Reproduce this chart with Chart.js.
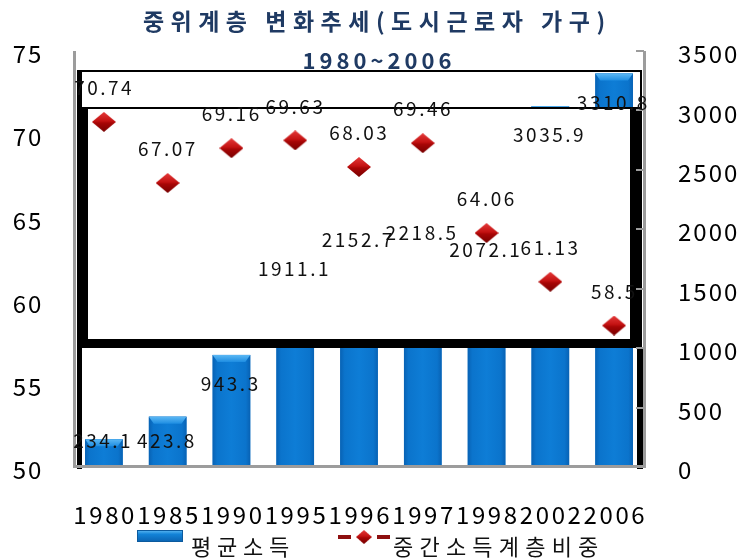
<!DOCTYPE html>
<html>
<head>
<meta charset="utf-8">
<script src="https://cdn.jsdelivr.net/npm/chart.js@4.4.1/dist/chart.umd.min.js"></script>
<style>
  html, body { margin: 0; padding: 0; background: #ffffff; }
  canvas { display: block; }
</style>
</head>
<body>
<canvas id="chart" width="740" height="559"></canvas>
<script>
// Survey years (category axis)
const years = ['1980', '1985', '1990', '1995', '1996', '1997', '1998', '2002', '2006'];
// 평균소득 (average income), right axis
const avgIncome = [234.1, 423.8, 943.3, 1911.1, 2152.7, 2218.5, 2072.1, 3035.9, 3310.8];
// 중간소득계층비중 (share of middle-income class, %), left axis
const middleShare = [70.74, 67.07, 69.16, 69.63, 68.03, 69.46, 64.06, 61.13, 58.5];
// Axis tick labels
const shareTicks = [50, 55, 60, 65, 70, 75];
const incomeTicks = [0, 500, 1000, 1500, 2000, 2500, 3000, 3500];
// Texts
const titleMain = '중위계층 변화추세(도시근로자 가구)';
const titleSub = '1980~2006';
const incomeName = '평균소득';
const shareName = '중간소득계층비중';

const FONT = '"Noto Sans CJK KR", "Noto Sans", sans-serif';

// draw text with extra letter spacing, char by char
function spacedText(ctx, text, x, y, spacing, align) {
  const chars = Array.from(text);
  const widths = chars.map(c => ctx.measureText(c).width);
  const total = widths.reduce((a, b) => a + b, 0) + spacing * (chars.length - 1);
  let cx = align === 'center' ? x - total / 2 : (align === 'right' ? x - total : x);
  ctx.textAlign = 'left';
  chars.forEach((c, i) => { ctx.fillText(c, cx, y); cx += widths[i] + spacing; });
}

// diamond marker image with a bevelled red fill
function diamondImage(w, h) {
  const cv = document.createElement('canvas');
  cv.width = w; cv.height = h;
  const g = cv.getContext('2d');
  const grad = g.createLinearGradient(0, 0, 0, h);
  grad.addColorStop(0, '#E43A3A');
  grad.addColorStop(0.45, '#C41212');
  grad.addColorStop(0.55, '#A80606');
  grad.addColorStop(1, '#760000');
  g.fillStyle = grad;
  g.beginPath();
  g.moveTo(w / 2, 0); g.lineTo(w, h / 2); g.lineTo(w / 2, h); g.lineTo(0, h / 2);
  g.closePath(); g.fill();
  return cv;
}
const marker = diamondImage(24, 20);

// white framed panels laid over the plot
function drawBackPanel(ctx) {
  ctx.save();
  ctx.fillStyle = '#ffffff';
  ctx.fillRect(77, 70, 565, 38);
  ctx.fillStyle = '#000000';
  ctx.fillRect(77, 70, 565, 2);    // top
  ctx.fillRect(77, 70, 5, 38);     // left
  ctx.fillRect(640, 70, 2, 38);    // right
  ctx.restore();
}
function drawFrontPanel(ctx) {
  ctx.save();
  ctx.fillStyle = '#ffffff';
  ctx.fillRect(77, 108, 565, 240);
  ctx.fillStyle = '#000000';
  ctx.fillRect(77, 107, 565, 2);    // top rule
  ctx.fillRect(77, 108, 11, 240);   // thick left
  ctx.fillRect(630, 108, 12, 240);  // thick right
  ctx.fillRect(77, 339, 565, 9);    // thick bottom
  ctx.fillRect(77, 348, 5, 121);    // lower left post
  ctx.fillRect(637, 348, 6, 121);   // lower right post
  ctx.restore();
}

const decor = {
  id: 'decor',
  beforeDatasetsDraw(chart) {
    drawBackPanel(chart.ctx);
  },
  afterDatasetDraw(chart, args) {
    if (args.meta.type !== 'bar') return;
    const ctx = chart.ctx;
    // shading and top bevel on each bar
    ctx.save();
    args.meta.data.forEach(bar => {
      const l = bar.x - bar.width / 2, r = bar.x + bar.width / 2, t = bar.y;
      const hg = ctx.createLinearGradient(l, 0, r, 0);
      hg.addColorStop(0, '#0862B4');
      hg.addColorStop(0.12, '#0B74CC');
      hg.addColorStop(0.5, '#0E7DD6');
      hg.addColorStop(0.88, '#0B74CC');
      hg.addColorStop(1, '#0862B4');
      ctx.fillStyle = hg;
      ctx.fillRect(l, t, r - l, bar.base - t);
      const bg = ctx.createLinearGradient(0, t, 0, t + 7);
      bg.addColorStop(0, '#5CB8F4');
      bg.addColorStop(1, '#1F8EE2');
      ctx.fillStyle = bg;
      ctx.beginPath();
      ctx.moveTo(l, t); ctx.lineTo(r, t); ctx.lineTo(r - 5, t + 7); ctx.lineTo(l + 5, t + 7);
      ctx.closePath(); ctx.fill();
    });
    ctx.restore();
    drawFrontPanel(ctx);
    // axes lines and right inner ticks
    const ca = chart.chartArea;
    const y1 = chart.scales.y1;
    ctx.save();
    ctx.fillStyle = '#9C9C9C';
    ctx.fillRect(ca.left + 1, ca.top, 3, ca.bottom - ca.top);
    ctx.fillRect(ca.right - 3, ca.top, 3, ca.bottom - ca.top);
    ctx.fillRect(ca.left + 1, ca.bottom - 2, ca.right - ca.left - 1, 3);
    incomeTicks.forEach(v => {
      const y = Math.round(y1.getPixelForValue(v));
      ctx.fillRect(ca.right - 10, y - 1, 8, 2);
    });
    ctx.restore();
  },
  afterDatasetsDraw(chart) {
    const ctx = chart.ctx;
    const ys = chart.scales.y, y1 = chart.scales.y1, xs = chart.scales.x;
    ctx.save();
    ctx.fillStyle = '#111111';
    ctx.textBaseline = 'middle';
    // bar value labels
    ctx.font = '19px ' + FONT;
    const barMeta = chart.getDatasetMeta(0);
    barMeta.data.forEach((bar, i) => {
      const y = Math.min(bar.y + 29, bar.base - 26);
      spacedText(ctx, String(avgIncome[i]), bar.x - 2, y, 2.5, 'center');
    });
    // share value labels
    const lineMeta = chart.getDatasetMeta(1);
    lineMeta.data.forEach((pt, i) => {
      spacedText(ctx, String(middleShare[i]), pt.x - 1, pt.y - 34, 2.5, 'center');
    });
    // axis tick labels
    ctx.fillStyle = '#000000';
    ctx.font = '24px ' + FONT;
    shareTicks.forEach(v => {
      spacedText(ctx, String(v), 27, ys.getPixelForValue(v) + 3, 2, 'center');
    });
    incomeTicks.forEach(v => {
      spacedText(ctx, String(v), 678, y1.getPixelForValue(v) + 3, 2, 'left');
    });
    years.forEach((yr, i) => {
      spacedText(ctx, yr, xs.getPixelForValue(i), 515, 2.6, 'center');
    });
    ctx.restore();
  },
  afterDraw(chart) {
    const ctx = chart.ctx;
    ctx.save();
    ctx.textBaseline = 'middle';
    // titles
    ctx.fillStyle = '#1F3A63';
    ctx.font = 'bold 23px ' + FONT;
    spacedText(ctx, titleMain, 374, 21, 6.5, 'center');
    ctx.font = 'bold 22px ' + FONT;
    spacedText(ctx, titleSub, 377, 61, 4, 'center');
    // legend: bar swatch
    const sg = ctx.createLinearGradient(0, 530, 0, 542);
    sg.addColorStop(0, '#62BDF5');
    sg.addColorStop(0.35, '#1283D8');
    sg.addColorStop(1, '#0A62B0');
    ctx.fillStyle = sg;
    ctx.fillRect(137, 530, 46, 12);
    ctx.strokeStyle = '#0B5A9E';
    ctx.lineWidth = 1;
    ctx.strokeRect(137.5, 530.5, 45, 11);
    ctx.fillStyle = '#111111';
    ctx.font = '22px ' + FONT;
    spacedText(ctx, incomeName, 191, 547, 5.8, 'left');
    // legend: share marker
    ctx.fillStyle = '#8E1010';
    ctx.fillRect(338, 535, 13, 4);
    ctx.fillRect(377, 535, 13, 4);
    ctx.drawImage(marker, 356, 530, 16, 14);
    ctx.fillStyle = '#111111';
    spacedText(ctx, shareName, 393, 547, 6.2, 'left');
    ctx.restore();
  }
};

new Chart(document.getElementById('chart'), {
  data: {
    labels: years,
    datasets: [
      {
        type: 'bar',
        label: incomeName,
        data: avgIncome,
        yAxisID: 'y1',
        order: 2,
        backgroundColor: '#0C75CB',
        borderWidth: 0,
        barPercentage: 0.59,
        categoryPercentage: 1.0
      },
      {
        type: 'line',
        label: shareName,
        data: middleShare,
        yAxisID: 'y',
        order: 1,
        showLine: false,
        pointStyle: marker,
        pointRadius: 11,
        pointHoverRadius: 11
      }
    ]
  },
  options: {
    responsive: false,
    animation: false,
    devicePixelRatio: 1,
    layout: { padding: { top: 51, right: 0, bottom: 0, left: 0 } },
    plugins: {
      legend: { display: false },
      title: { display: false },
      tooltip: { enabled: false }
    },
    scales: {
      x: {
        type: 'category',
        offset: true,
        grid: { display: false },
        border: { display: false },
        ticks: { display: false },
        afterFit(scale) { scale.height = 92; }
      },
      y: {
        position: 'left',
        min: 50,
        max: 75,
        grid: { display: false },
        border: { display: false },
        ticks: { display: false },
        afterFit(scale) { scale.width = 72; }
      },
      y1: {
        position: 'right',
        min: 0,
        max: 3500,
        grid: { display: false },
        border: { display: false },
        ticks: { display: false },
        afterFit(scale) { scale.width = 94; }
      }
    }
  },
  plugins: [decor]
});
</script>
</body>
</html>
